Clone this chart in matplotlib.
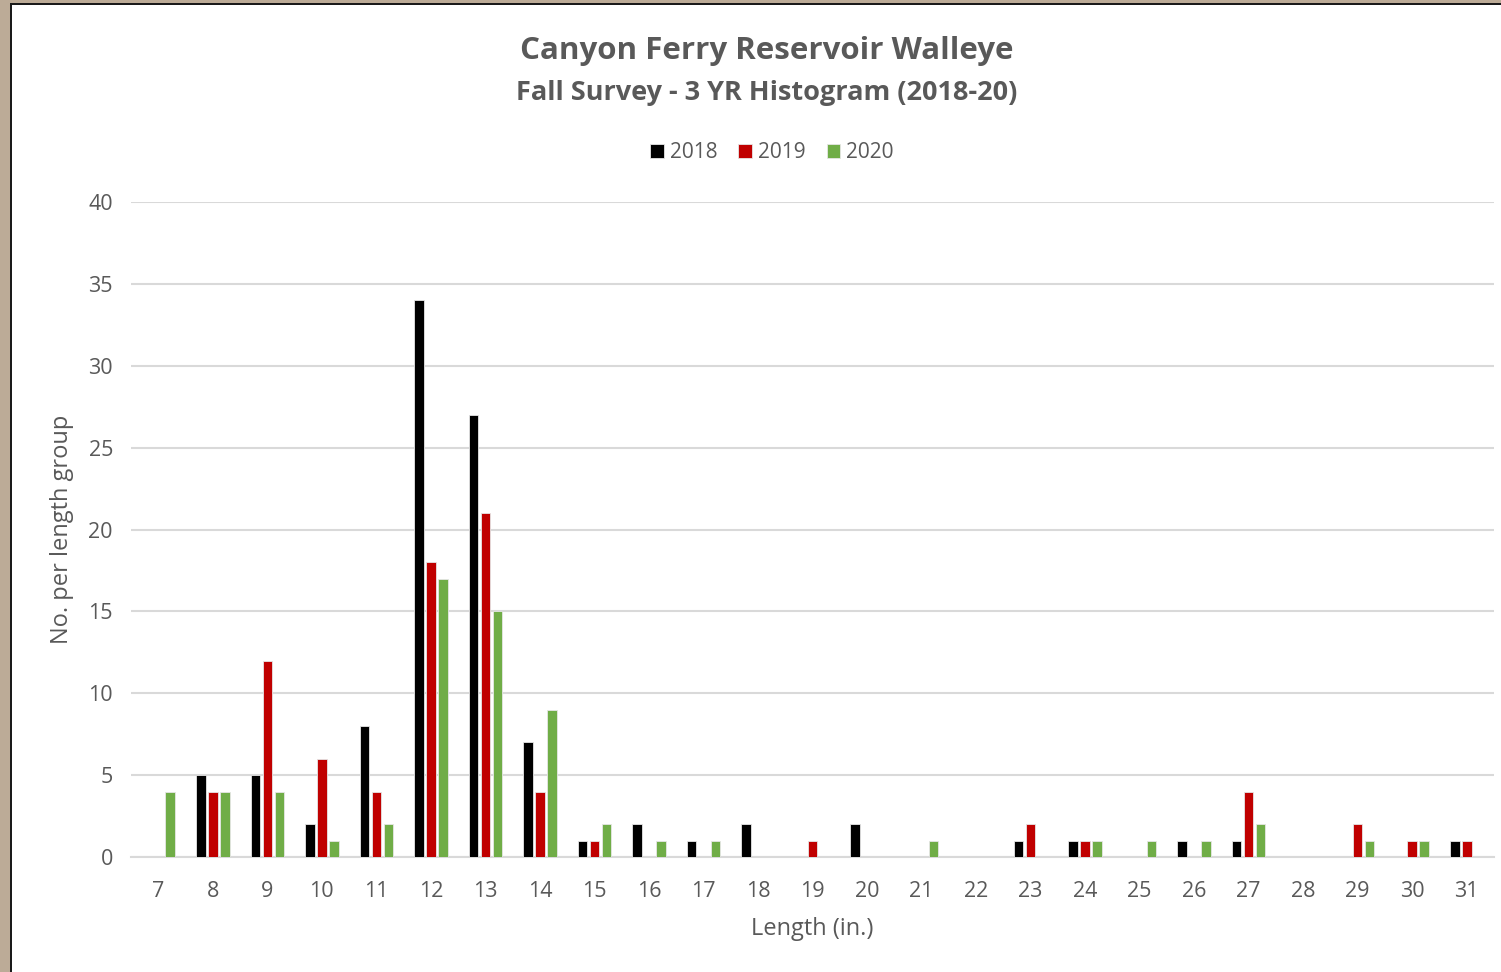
import numpy as np
import matplotlib.pyplot as plt
from matplotlib.patches import Rectangle


# =========================
# Data
# =========================

lengths = list(range(7, 32))

y2018 = [0, 5, 5, 2, 8, 34, 27, 7, 1, 2, 1, 2, 0, 2, 0, 0, 1, 1, 0, 1, 1, 0, 0, 0, 1]
y2019 = [0, 4, 12, 6, 4, 18, 21, 4, 1, 0, 0, 0, 1, 0, 0, 0, 2, 1, 0, 0, 4, 0, 2, 1, 1]
y2020 = [4, 4, 4, 1, 2, 17, 15, 9, 2, 1, 1, 0, 0, 0, 1, 0, 0, 1, 1, 1, 2, 0, 1, 1, 0]

years = ["2018", "2019", "2020"]
colors = ["#000000", "#c00000", "#70ad47"]

grey = "#595959"
plt.rcParams["font.family"] = ["Open Sans", "DejaVu Sans"]


# =========================
# Figure
# =========================

fig = plt.figure(figsize=(15.01, 9.72), dpi=100)

# tan frame on the left / top
fig.patches.append(Rectangle((0, 0), 1, 1, transform=fig.transFigure,
                             facecolor="#bcab97", edgecolor="none", zorder=-3))
fig.patches.append(Rectangle((10 / 1501, 0), 1, 1 - 3 / 972, transform=fig.transFigure,
                             facecolor="#1a1a1a", edgecolor="none", zorder=-2))
fig.patches.append(Rectangle((12 / 1501, 0), 1, 1 - 5 / 972, transform=fig.transFigure,
                             facecolor="white", edgecolor="none", zorder=-1))

ax = fig.add_axes([131 / 1501, (972 - 857) / 972, (1494 - 131) / 1501, (857 - 202) / 972])
ax.set_facecolor("none")

x = np.arange(len(lengths))
w = 0.175
step = 0.22

for i, (vals, c, lab) in enumerate(zip([y2018, y2019, y2020], colors, years)):
    ax.bar(x + (i - 1) * step, vals, width=w, color=c, label=lab,
           edgecolor="#e6e6e6", linewidth=0.6, zorder=3)

ax.set_xlim(-0.5, len(lengths) - 0.5)
ax.set_ylim(0, 40)
ax.set_yticks(range(0, 41, 5))
ax.set_xticks(x)
ax.set_xticklabels([str(v) for v in lengths])

ax.grid(axis="y", color="#d9d9d9", linewidth=1.5, zorder=0)
for s in ["top", "right", "left"]:
    ax.spines[s].set_visible(False)
ax.spines["bottom"].set_color("#d9d9d9")
ax.spines["bottom"].set_linewidth(1.5)

ax.tick_params(axis="both", length=0, labelsize=15.5, colors=grey)
ax.tick_params(axis="x", pad=17)
ax.tick_params(axis="y", pad=13)

ax.set_xlabel("Length (in.)", fontsize=17, color=grey, labelpad=11)
ax.set_ylabel("No. per length group", fontsize=17, color=grey, labelpad=10)

fig.text(0.511, 1 - 51 / 972, "Canyon Ferry Reservoir Walleye", ha="center", va="center",
         fontsize=22.5, fontweight="bold", color=grey)
fig.text(0.511, 1 - 93 / 972, "Fall Survey - 3 YR Histogram (2018-20)", ha="center", va="center",
         fontsize=19.5, fontweight="bold", color=grey)

fig.legend(loc="center", bbox_to_anchor=(772 / 1501, 1 - 153 / 972), ncol=3, frameon=False,
           fontsize=15, labelcolor=grey, handlelength=0.65, handleheight=0.65,
           handletextpad=0.3, columnspacing=1.0)

plt.savefig("out.png", dpi=100)
